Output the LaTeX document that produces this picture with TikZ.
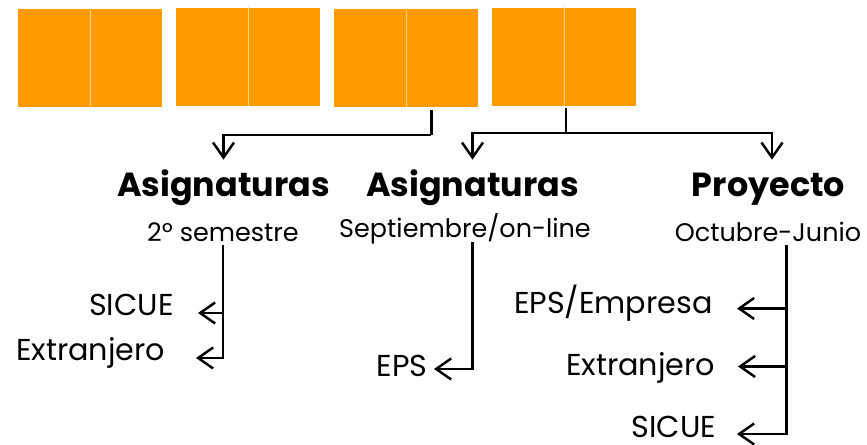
\documentclass[tikz,border=0pt]{standalone}
\usepackage{fontspec}
\setmainfont{Poppins}
\usepackage{tikz}
\usetikzlibrary{calc}
\usetikzlibrary{arrows.meta}
\usetikzlibrary{positioning}

\definecolor{blkorange}{HTML}{FF9A00}
\definecolor{blksep}{HTML}{FFD58A}

\tikzset{
  blk/.style={rectangle, fill=blkorange, minimum width=2.88cm, minimum height=1.96cm, inner sep=0pt, anchor=south west},
  sepline/.style={draw=blksep, line width=0.6pt},
  title/.style={anchor=base, font=\bfseries\fontsize{19}{22}\selectfont, text height=0.44cm, text depth=0pt, inner xsep=0pt, inner ysep=0.3cm},
  subtitle/.style={anchor=base, font=\fontsize{14.5}{17}\selectfont, text depth=0pt, inner xsep=0pt, inner ysep=0.07cm},
  lbl/.style={anchor=base east, font=\fontsize{17.2}{20}\selectfont, inner sep=0pt},
  arr/.style={line width=1.4pt, -{Straight Barb[length=0.3cm, width=0.42cm, line width=1.4pt]}},
  conn/.style={line width=1.4pt}
}

\begin{document}
\begin{tikzpicture}
\useasboundingbox (0,0) rectangle (17.34,8.9);

% orange blocks
\foreach \i/\x/\y in {1/0.36/6.76, 2/3.52/6.78, 3/6.68/6.76, 4/9.84/6.78} {
  \node [blk] (b\i) at (\x,\y) {};
  \draw [sepline] (b\i.north) -- (b\i.south);
}

\node [title] (t1) at (4.47,4.96) {Asignaturas};
\node [title] (t2) at (9.45,4.96) {Asignaturas};
\node [title] (t3) at (15.37,4.96) {Proyecto};

\node [subtitle] (s1) at (4.46,4.07) {2º semestre};
\node [subtitle] (s2) at (9.30,4.14) {Septiembre/on-line};
\node [subtitle] (s3) at (15.36,4.07) {Octubre-Junio};

\node [lbl] (sicueA) at (3.48,2.58) {SICUE};
\node [lbl] (extA) at (3.31,1.69) {Extranjero};
\node [lbl] (epsB) at (8.56,1.37) {EPS};
\node [lbl] (empC) at (14.26,2.63) {EPS/Empresa};
\node [lbl] (extC) at (14.31,1.38) {Extranjero};
\node [lbl] (sicueC) at (14.33,0.14) {SICUE};

\coordinate (pA1) at ([xshift=4.8mm, yshift=0.6mm]sicueA.base east);
\coordinate (pA2) at ([xshift=6.1mm, yshift=0.5mm]extA.base east);
\coordinate (pB1) at ([xshift=1.2mm, yshift=1.5mm]epsB.base east);
\coordinate (pC1) at ([xshift=4.8mm, yshift=1.0mm]empC.base east);
\coordinate (pC2) at ([xshift=4.5mm, yshift=1.9mm]extC.base east);
\coordinate (pC3) at ([xshift=4.1mm, yshift=0.8mm]sicueC.base east);

% from the blocks to the headings
\draw [conn] ([xshift=5mm, yshift=-0.6mm]b3.south) -- ++(0,-0.5) coordinate (j1);
\draw [arr] (j1) -| (t1.north);
\draw [conn] ([xshift=0.3mm, yshift=-0.4mm]b4.south) -- ++(0,-0.5) coordinate (j2);
\draw [arr] (j2) -| (t2.north);
\draw [arr] (j2) -| ([xshift=0.7mm]t3.north);

% from the headings to the options
\draw [arr] (s1.south) |- (pA2);
\draw [arr] (pA1 -| s1.south) -- (pA1);
\draw [arr] ([xshift=1.5mm]s2.south) |- (pB1);
\draw [arr] ([xshift=3.7mm]s3.south) |- (pC3);
\draw [arr] ([xshift=3.7mm]s3.south |- pC2) -- (pC2);
\draw [arr] ([xshift=3.7mm]s3.south |- pC1) -- (pC1);

\end{tikzpicture}
\end{document}
